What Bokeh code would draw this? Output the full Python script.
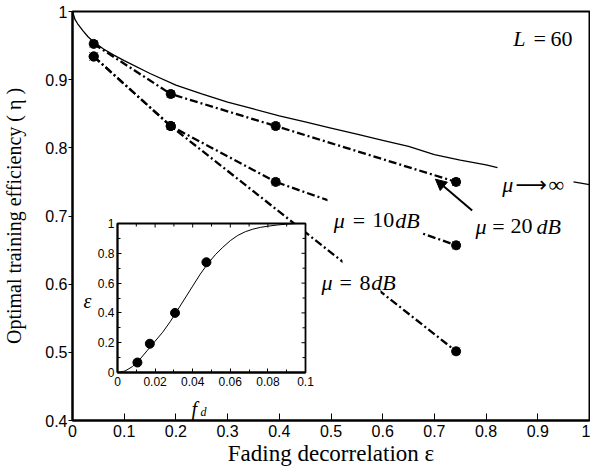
from bokeh.plotting import figure
from bokeh.layouts import column
from bokeh.models import (Range1d, Label, Arrow, NormalHead, BoxAnnotation,
                          FixedTicker, NumeralTickFormatter)
from bokeh.embed import file_html
from bokeh.resources import INLINE

# ---------------- data ----------------
main_x_ticks = [0, 0.1, 0.2, 0.3, 0.4, 0.5, 0.6, 0.7, 0.8, 0.9, 1.0]
main_y_ticks = [0.4, 0.5, 0.6, 0.7, 0.8, 0.9, 1.0]

# mu -> infinity (solid), drawn in two pieces around its label
inf_eps = [0, 0.005, 0.01, 0.02, 0.03, 0.04, 0.06, 0.08, 0.1, 0.15, 0.2, 0.25,
           0.3, 0.35, 0.4, 0.45, 0.5, 0.55, 0.6, 0.65, 0.7, 0.75, 0.8, 0.822]
inf_eta = [1.0, 0.988, 0.982, 0.972, 0.963, 0.956, 0.945, 0.936, 0.928, 0.909,
           0.892, 0.879, 0.867, 0.857, 0.847, 0.838, 0.829, 0.820, 0.811, 0.802,
           0.790, 0.782, 0.775, 0.771]
inf_tail_eps = [0.969, 1.0]
inf_tail_eta = [0.750, 0.746]

eps_20 = [0.041, 0.19, 0.393, 0.742]
eta_20 = [0.9525, 0.879, 0.832, 0.750]
eps_10 = [0.041, 0.19, 0.393, 0.742]
eta_10 = [0.934, 0.832, 0.750, 0.657]
eps_8 = [0.041, 0.19, 0.742]
eta_8 = [0.934, 0.832, 0.5015]

# inset: epsilon versus f_d
inset_x_ticks = [0, 0.02, 0.04, 0.06, 0.08, 0.1]
inset_x_minor = [0.01, 0.03, 0.05, 0.07, 0.09]
inset_y_ticks = [0, 0.2, 0.4, 0.6, 0.8, 1.0]
inset_y_minor = [0.1, 0.3, 0.5, 0.7, 0.9]
fd_curve = [0, 0.004, 0.008, 0.012, 0.016, 0.02, 0.024, 0.028, 0.032, 0.036, 0.04,
            0.044, 0.048, 0.052, 0.056, 0.06, 0.064, 0.068, 0.072, 0.076, 0.08,
            0.085, 0.09, 0.095, 0.1]
eps_curve = [0, 0.01, 0.04, 0.09, 0.15, 0.21, 0.27, 0.34, 0.42, 0.5, 0.58, 0.66,
             0.73, 0.79, 0.84, 0.885, 0.92, 0.945, 0.962, 0.974, 0.982, 0.99,
             0.996, 0.999, 1.0]
fd_pts = [0.0106, 0.0172, 0.0306, 0.0473]
eps_pts = [0.067, 0.193, 0.40, 0.74]

SERIF = "Liberation Serif"
SANS = "Liberation Sans"

# ---------------- main figure ----------------
W, H = 590, 470
p = figure(width=W, height=H, x_range=Range1d(0, 1), y_range=Range1d(0.4, 1),
           output_backend="svg", toolbar_location=None,
           min_border_left=72, min_border_right=1, min_border_top=11,
           min_border_bottom=50)
p.frame_align = False
p.grid.visible = False
p.outline_line_color = "black"
p.outline_line_width = 2
p.background_fill_color = "white"
p.border_fill_color = "white"

xa = p.xaxis[0]
xa.ticker = FixedTicker(ticks=main_x_ticks, minor_ticks=[])
xa.formatter = NumeralTickFormatter(format="0.[0]")
xa.major_tick_in = 7
xa.major_tick_out = 0
xa.minor_tick_in = 0
xa.minor_tick_out = 0
xa.axis_line_width = 2
xa.major_label_text_font = SANS
xa.major_label_text_font_size = "16px"
xa.major_label_text_color = "black"
xa.major_label_standoff = 4
xa.axis_label = "Fading decorrelation ε"
xa.axis_label_text_font = SERIF
xa.axis_label_text_font_style = "normal"
xa.axis_label_text_font_size = "23px"
xa.axis_label_text_color = "black"
xa.axis_label_standoff = 1

ya = p.yaxis[0]
ya.ticker = FixedTicker(ticks=main_y_ticks, minor_ticks=[])
ya.formatter = NumeralTickFormatter(format="0.[0]")
ya.major_tick_in = 0
ya.major_tick_out = 4
ya.minor_tick_in = 0
ya.minor_tick_out = 0
ya.axis_line_width = 2
ya.major_label_text_font = SANS
ya.major_label_text_font_size = "16px"
ya.major_label_text_color = "black"
ya.major_label_standoff = 1
ya.axis_label = "Optimal training efficiency ( η )"
ya.axis_label_text_font = SERIF
ya.axis_label_text_font_style = "normal"
ya.axis_label_text_font_size = "20px"
ya.axis_label_text_color = "black"
ya.axis_label_standoff = 17

# curves
p.line(inf_eps, inf_eta, line_color="black", line_width=1.3)
p.line(inf_tail_eps, inf_tail_eta, line_color="black", line_width=1.3)

DASH = "8 3 2 3"
for xs, ys in ((eps_20, eta_20), (eps_10, eta_10), (eps_8, eta_8)):
    p.line(xs, ys, line_color="black", line_width=2.3, line_dash=DASH)
    p.scatter(xs, ys, marker="circle", size=9, fill_color="black", line_color="black")
    p.scatter(xs, ys, marker="x", size=11, line_color="black", line_width=1)

# white gaps behind the 10 dB and 8 dB labels
p.add_layout(BoxAnnotation(left=0.4932, right=0.677, bottom=0.6735, top=0.7397,
                           fill_color="white", fill_alpha=1, line_alpha=0))
p.add_layout(BoxAnnotation(left=0.5222, right=0.5957, bottom=0.5809, top=0.6456,
                           fill_color="white", fill_alpha=1, line_alpha=0))


def math_label(fig, y, pieces, size="22px"):
    for x, txt, italic, *font in pieces:
        fig.add_layout(Label(x=x, y=y, text=txt, text_font=font[0] if font else SERIF,
                             text_font_style="italic" if italic else "normal",
                             text_font_size=size, text_color="black",
                             text_align="left", text_baseline="alphabetic"))


math_label(p, 0.9599, [(0.8524, "L", True), (0.8917, "=", False), (0.9246, "60", False)])
math_label(p, 0.7456, [(0.8311, "μ", True), (0.857, "⟶", False, "DejaVu Sans"),
                       (0.9207, "∞", False)])
math_label(p, 0.6846, [(0.7795, "μ", True), (0.8120, "=", False), (0.8472, "20", False),
                       (0.8975, "dB", True)])
math_label(p, 0.6937, [(0.5054, "μ", True), (0.5420, "=", False), (0.5797, "10", False),
                       (0.6245, "dB", True)])
math_label(p, 0.6019, [(0.4816, "μ", True), (0.5165, "=", False), (0.5551, "8", False),
                       (0.5780, "dB", True)])

p.add_layout(Arrow(x_start=0.773, y_start=0.708, x_end=0.702, y_end=0.754,
                   line_color="black", line_width=2,
                   end=NormalHead(size=11, fill_color="black", line_color="black",
                                  line_width=1)))

# inset axis titles (drawn in the main plot, beside / below the inset)
p.add_layout(Label(x=0.029, y=0.575, text="ε", text_font=SERIF, text_font_style="italic",
                   text_font_size="20px", text_color="black", text_align="center",
                   text_baseline="middle"))
p.add_layout(Label(x=0.2302, y=0.4175, text="f", text_font=SERIF, text_font_style="italic",
                   text_font_size="20px", text_color="black", text_baseline="alphabetic"))
p.add_layout(Label(x=0.2476, y=0.4128, text="d", text_font=SERIF, text_font_style="italic",
                   text_font_size="12px", text_color="black", text_baseline="alphabetic"))

# ---------------- inset figure ----------------
IL, IR, IT, IB = 28, 10, 8, 24     # borders
IFW, IFH = 188, 149                # frame size
ins = figure(width=IL + IFW + IR, height=IT + IFH + IB,
             x_range=Range1d(0, 0.1), y_range=Range1d(0, 1),
             output_backend="svg", toolbar_location=None,
             min_border_left=IL, min_border_right=IR, min_border_top=IT,
             min_border_bottom=IB)
ins.frame_align = False
ins.grid.visible = False
ins.background_fill_color = "white"
ins.border_fill_color = None
ins.border_fill_alpha = 0
ins.outline_line_color = "black"
ins.outline_line_width = 1.8

ix = ins.xaxis[0]
ix.ticker = FixedTicker(ticks=inset_x_ticks, minor_ticks=inset_x_minor)
ix.formatter = NumeralTickFormatter(format="0.[00]")
iy = ins.yaxis[0]
iy.ticker = FixedTicker(ticks=inset_y_ticks, minor_ticks=inset_y_minor)
iy.formatter = NumeralTickFormatter(format="0.[0]")
for ax in (ix, iy):
    ax.major_tick_in = 4
    ax.major_tick_out = 0
    ax.minor_tick_in = 3
    ax.minor_tick_out = 0
    ax.axis_line_width = 1.8
    ax.major_label_text_font = SANS
    ax.major_label_text_font_size = "12px"
    ax.major_label_text_color = "black"
ix.major_label_standoff = 4
iy.major_label_standoff = 3

# mirrored inward ticks on the top and right edges of the inset
tx = inset_x_ticks[1:-1] + inset_x_minor
tlen = [4 / IFH if t in inset_x_ticks else 3 / IFH for t in tx]
ins.segment(x0=tx, y0=[1] * len(tx), x1=tx, y1=[1 - l for l in tlen],
            line_color="black", line_width=1)
ty = inset_y_ticks[1:-1] + inset_y_minor
rlen = [0.1 * 4 / IFW if t in inset_y_ticks else 0.1 * 3 / IFW for t in ty]
ins.segment(x0=[0.1] * len(ty), y0=ty, x1=[0.1 - l for l in rlen], y1=ty,
            line_color="black", line_width=1)

ins.line(fd_curve, eps_curve, line_color="black", line_width=1)
ins.scatter(fd_pts, eps_pts, marker="circle", size=9, fill_color="black", line_color="black")

# place the inset over the main plot (page coordinates of the inset figure)
ins_left, ins_top = 89, 215
main_bottom = H
ins.margin = (ins_top - main_bottom, 0,
              main_bottom - (ins_top + IT + IFH + IB), ins_left)

layout = column(p, ins, spacing=0)
open("out.html", "w").write(file_html(layout, INLINE))
